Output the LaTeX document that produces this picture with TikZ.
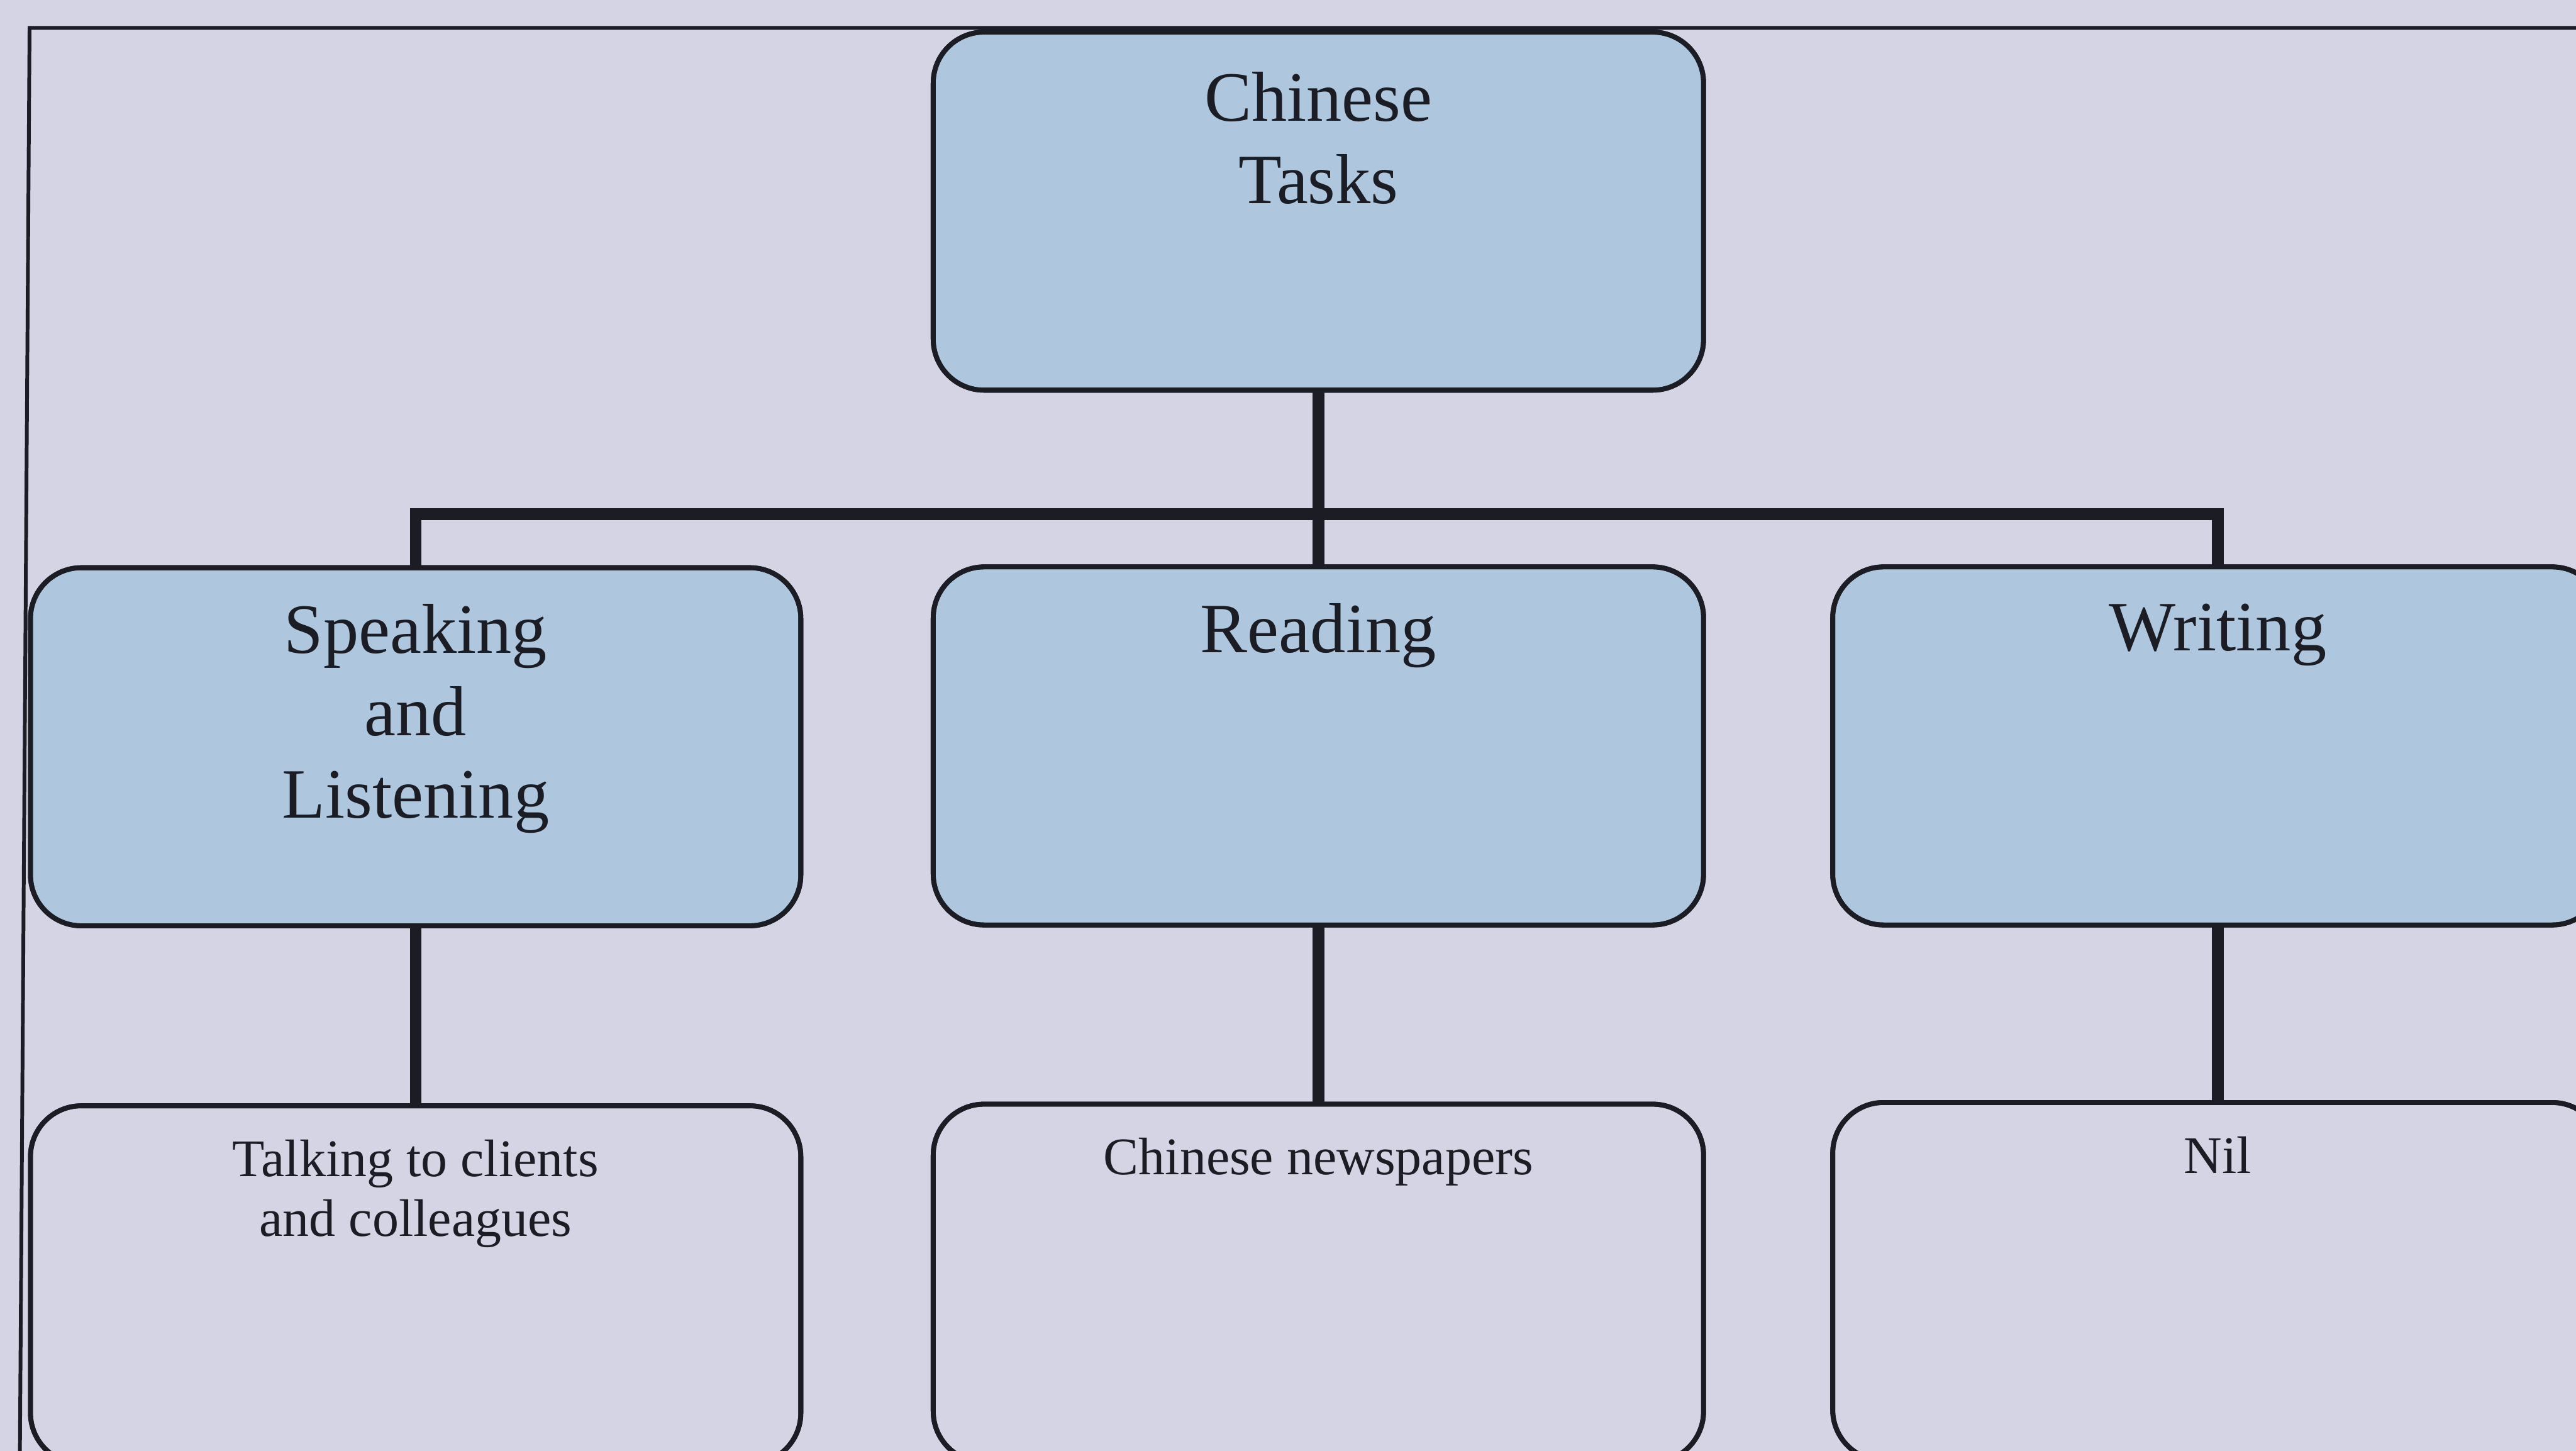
\documentclass[tikz,border=0pt]{standalone}
\usepackage{fontspec}
\setmainfont{Liberation Serif}
\definecolor{paper}{RGB}{212,212,229}
\definecolor{boxblue}{RGB}{174,198,222}
\definecolor{ink}{RGB}{28,28,36}
% text inside a box: fixed-height top-aligned parbox, first baseline at #1 below the top
\newcommand{\boxlabel}[2]{\parbox[c][4.36cm][t]{8.6cm}{\centering\rule{0pt}{#1}#2}}
\begin{document}
\begin{tikzpicture}[x=0.02cm,y=-0.02cm,
  chartbox/.style={draw=ink,line width=1.7pt,rounded corners=0.62cm,
    inner sep=0pt,outer sep=0pt,minimum width=9.38cm,minimum height=4.36cm,text=ink},
  bluebox/.style={chartbox,fill=boxblue},
  plainbox/.style={chartbox,fill=paper},
  bigfont/.style={font=\fontsize{24.5}{28.6}\selectfont},
  smallfont/.style={font=\fontsize{18.3}{20.8}\selectfont},
  conn/.style={draw=ink,line width=4pt,line join=miter,line cap=butt},
  framing/.style={draw=ink,line width=1.3pt}]
  \useasboundingbox (0,0) rectangle (1568,883);
  \clip (0,0) rectangle (1568,883);
  \fill[paper] (0,0) rectangle (1568,883);

  % page frame
  \coordinate (fTL) at (18,17);
  \coordinate (fTR) at (1600,17);
  \coordinate (fBL) at (12,900);
  \draw[framing] (fTR) -- (fTL) -- (fBL);

  % boxes
  \node[bluebox,bigfont] (top) at (802.5,128.5) {\boxlabel{1.08cm}{Chinese\\Tasks}};
  \node[bluebox,bigfont] (spk) at (253,454.5) {\boxlabel{1.04cm}{Speaking\\and\\Listening}};
  \node[bluebox,bigfont] (rea) at (802.5,454) {\boxlabel{1.04cm}{Reading}};
  \node[bluebox,bigfont] (wri) at (1350,454) {\boxlabel{1.02cm}{Writing}};
  \node[plainbox,smallfont] (tlk) at (253,782) {\boxlabel{0.86cm}{Talking to clients\\and colleagues}};
  \node[plainbox,smallfont] (nws) at (802.5,781) {\boxlabel{0.86cm}{Chinese newspapers}};
  \node[plainbox,smallfont] (nil) at (1350,780) {\boxlabel{0.86cm}{Nil}};

  % connectors
  \coordinate (bus) at (802.5,313);
  \draw[conn] (spk.north) |- (bus) -| (wri.north);
  \draw[conn] (top.south) -- (rea.north);
  \draw[conn] (spk.south) -- (tlk.north);
  \draw[conn] (rea.south) -- (nws.north);
  \draw[conn] (wri.south) -- (nil.north);

  % redraw box outlines over connector ends
  \foreach \n in {top,spk,rea,wri,tlk,nws,nil}
    \draw[draw=ink,line width=1.7pt,rounded corners=0.62cm]
      (\n.north west) rectangle (\n.south east);
\end{tikzpicture}
\end{document}
